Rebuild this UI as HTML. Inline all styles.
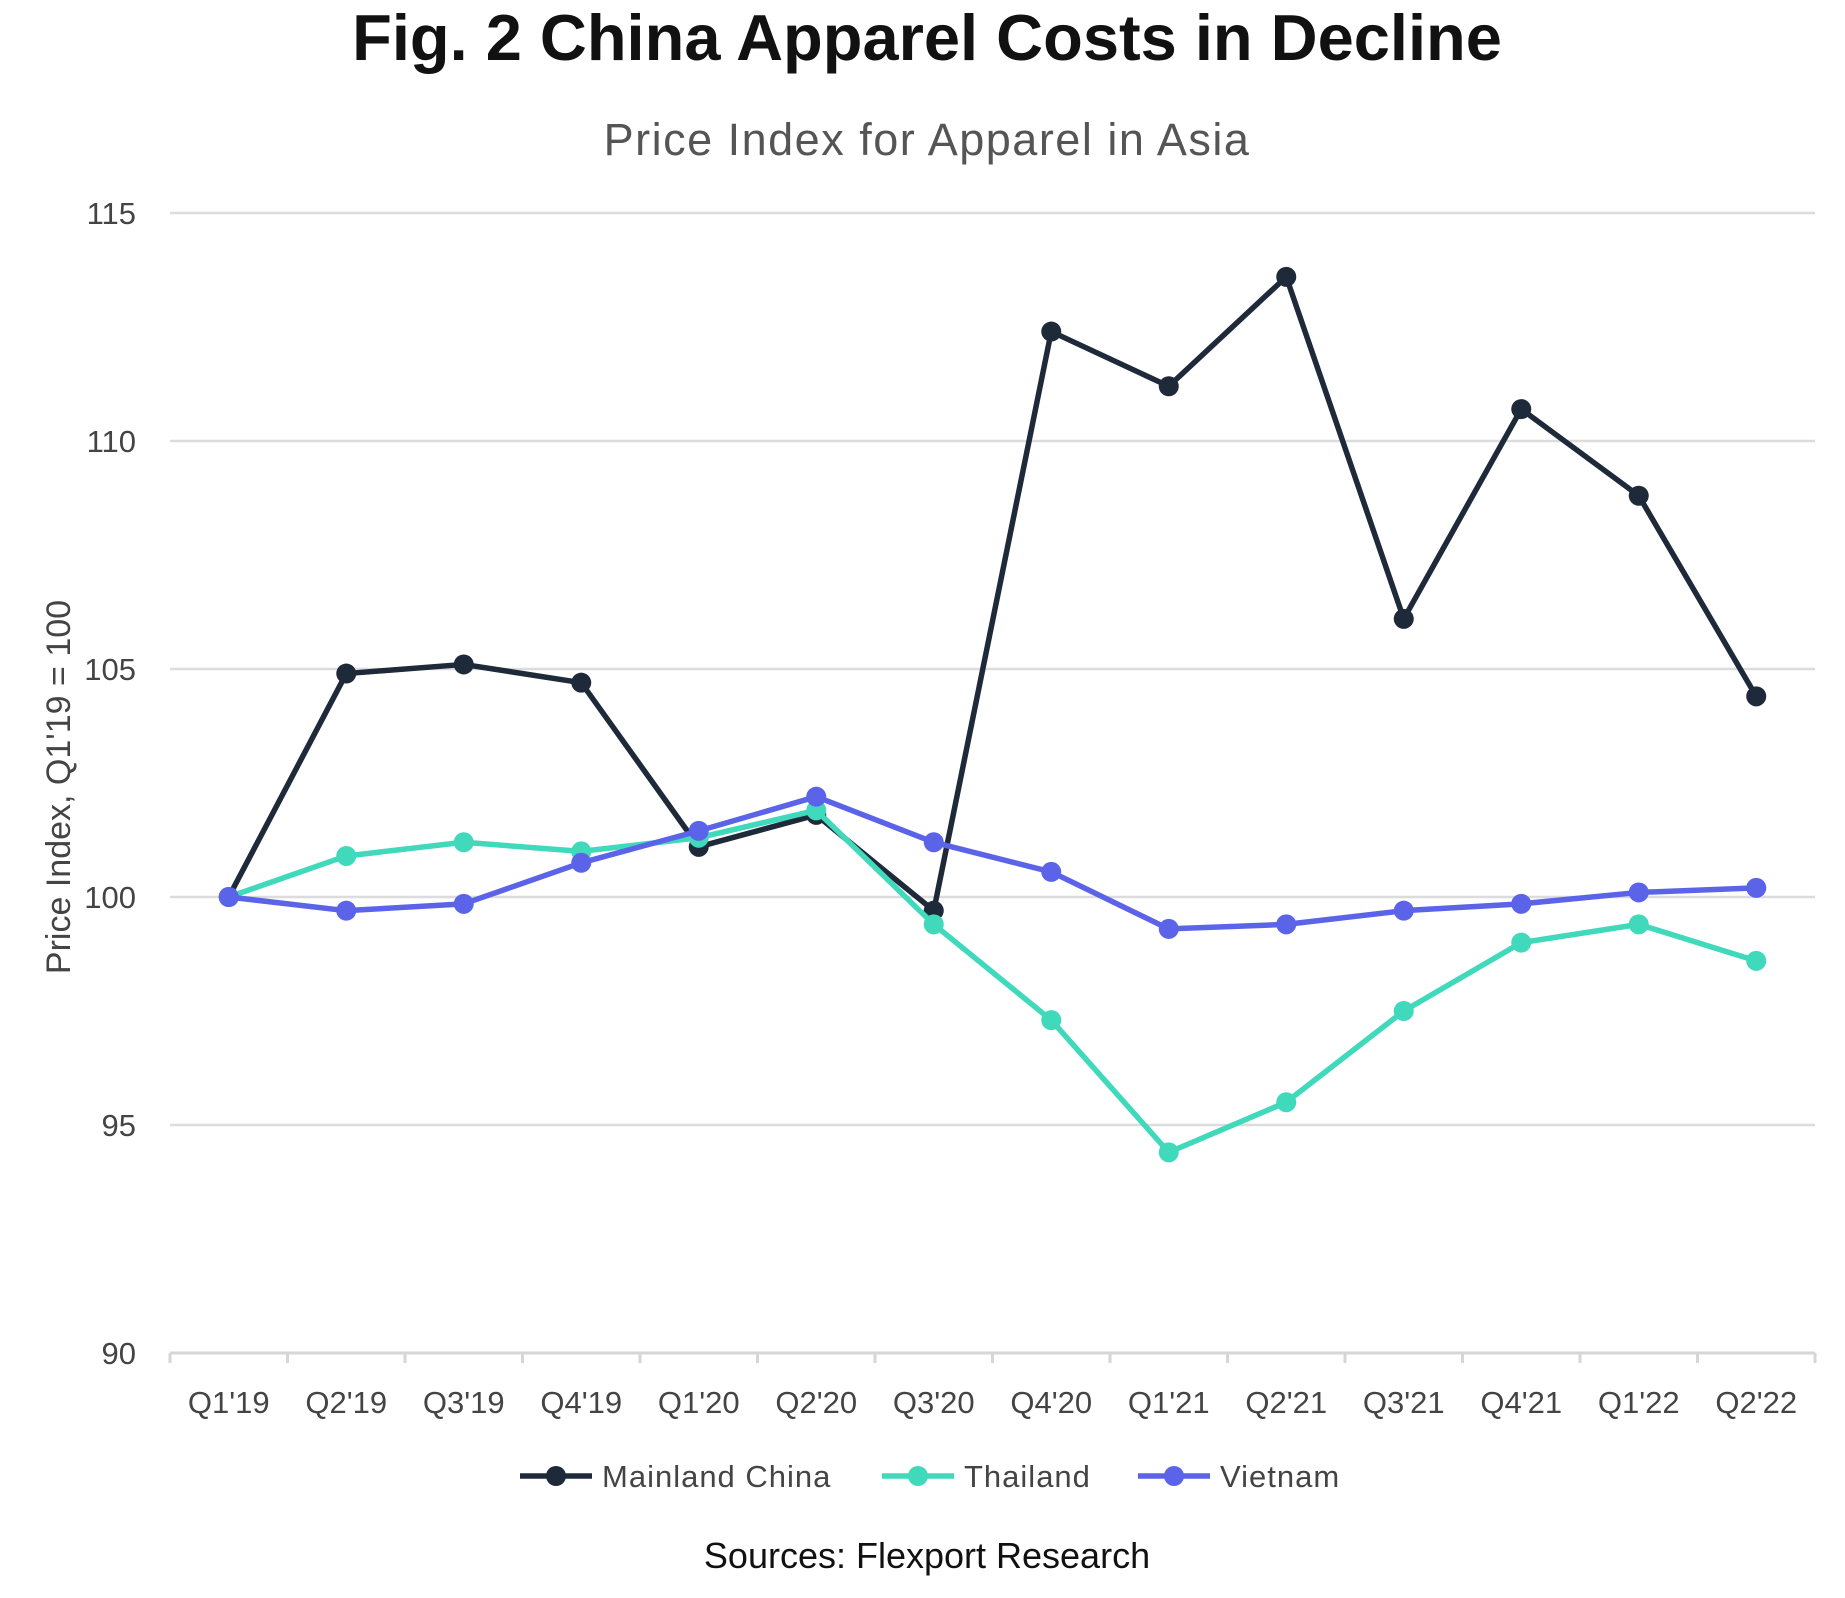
<!DOCTYPE html>
<html><head><meta charset="utf-8"><style>
body{margin:0;background:#fff;}
svg{display:block;font-family:"Liberation Sans",sans-serif;}
</style></head><body>
<svg id="chart" width="1845" height="1598">
<text x="927" y="60" text-anchor="middle" font-size="65" font-weight="bold" fill="#111">Fig. 2 China Apparel Costs in Decline</text>
<text x="927" y="155" text-anchor="middle" font-size="45" fill="#555" letter-spacing="1.5">Price Index for Apparel in Asia</text>
<text transform="translate(70,787) rotate(-90)" text-anchor="middle" font-size="34" fill="#444">Price Index, Q1'19 = 100</text>
<text x="927" y="1568" text-anchor="middle" font-size="36" fill="#111">Sources: Flexport Research</text>
<g id="grid"></g><g id="axes"></g><g id="series"></g><g id="legend"></g>
</svg>
<script>
const categories=["Q1'19","Q2'19","Q3'19","Q4'19","Q1'20","Q2'20","Q3'20","Q4'20","Q1'21","Q2'21","Q3'21","Q4'21","Q1'22","Q2'22"];
const china=[100,104.9,105.1,104.7,101.1,101.8,99.7,112.4,111.2,113.6,106.1,110.7,108.8,104.4];
const thailand=[100,100.9,101.2,101.0,101.3,101.9,99.4,97.3,94.4,95.5,97.5,99.0,99.4,98.6];
const vietnam=[100,99.7,99.85,100.75,101.45,102.2,101.2,100.55,99.3,99.4,99.7,99.85,100.1,100.2];
const yTicks=[90,95,100,105,110,115];
const seriesNames=["Mainland China","Thailand","Vietnam"];
const NS="http://www.w3.org/2000/svg";
const L=170,R=1815,yTop=213,yBot=1353,yMin=90,yMax=115;
const band=(R-L)/categories.length;
const x=i=>L+band*(i+0.5);
const y=v=>yBot-(v-yMin)/(yMax-yMin)*(yBot-yTop);
function mk(tag,attrs,parent){const e=document.createElementNS(NS,tag);for(const k in attrs)e.setAttribute(k,attrs[k]);parent.appendChild(e);return e;}
const grid=document.getElementById('grid'),axes=document.getElementById('axes'),ser=document.getElementById('series'),leg=document.getElementById('legend');
yTicks.forEach(t=>{
 if(t!==yMin){const g=mk('line',{x1:L,x2:R,y1:y(t),y2:y(t),stroke:'#dcdcdc','stroke-width':2.5},grid);
 
 }
 const tx=mk('text',{x:136,y:y(t)+11,'text-anchor':'end','font-size':31,fill:'#444'},axes);tx.textContent=t;
 
 
});
const ax=mk('line',{x1:L,x2:R,y1:yBot,y2:yBot,stroke:'#d6d6d6','stroke-width':3},axes);


for(let i=0;i<=categories.length;i++){const tk=mk('line',{x1:L+band*i,x2:L+band*i,y1:yBot,y2:yBot+10,stroke:'#d6d6d6','stroke-width':3},axes);
 
 }
categories.forEach((c,i)=>{const t=mk('text',{x:x(i),y:1413,'text-anchor':'middle','font-size':31,fill:'#444'},axes);t.textContent=c;
 
 });
const data=[[china,'#1e2a3a'],[thailand,'#40d9bc'],[vietnam,'#5b63e8']];
data.forEach(([vals,col],si)=>{
 const g=mk('g',{},ser);
 
 
 const p=mk('polyline',{points:vals.map((v,i)=>x(i)+','+y(v)).join(' '),fill:'none',stroke:col,'stroke-width':5.5,'stroke-linejoin':'round'},g);
 
 
 vals.forEach((v,i)=>{const c=mk('circle',{cx:x(i),cy:y(v),r:10,fill:col},g);
  
  });
});
const lx=[520,882,1138];
data.forEach(([v,col],si)=>{
 const g=mk('g',{},leg);
 
 
 const X=lx[si],Y=1476;
 mk('line',{x1:X,x2:X+72,y1:Y,y2:Y,stroke:col,'stroke-width':5.5},g);
 mk('circle',{cx:X+36,cy:Y,r:10,fill:col},g);
 const t=mk('text',{x:X+82,y:Y+11,'font-size':31,fill:'#444','letter-spacing':'1'},g);t.textContent=seriesNames[si];
});
</script>
</body></html>
